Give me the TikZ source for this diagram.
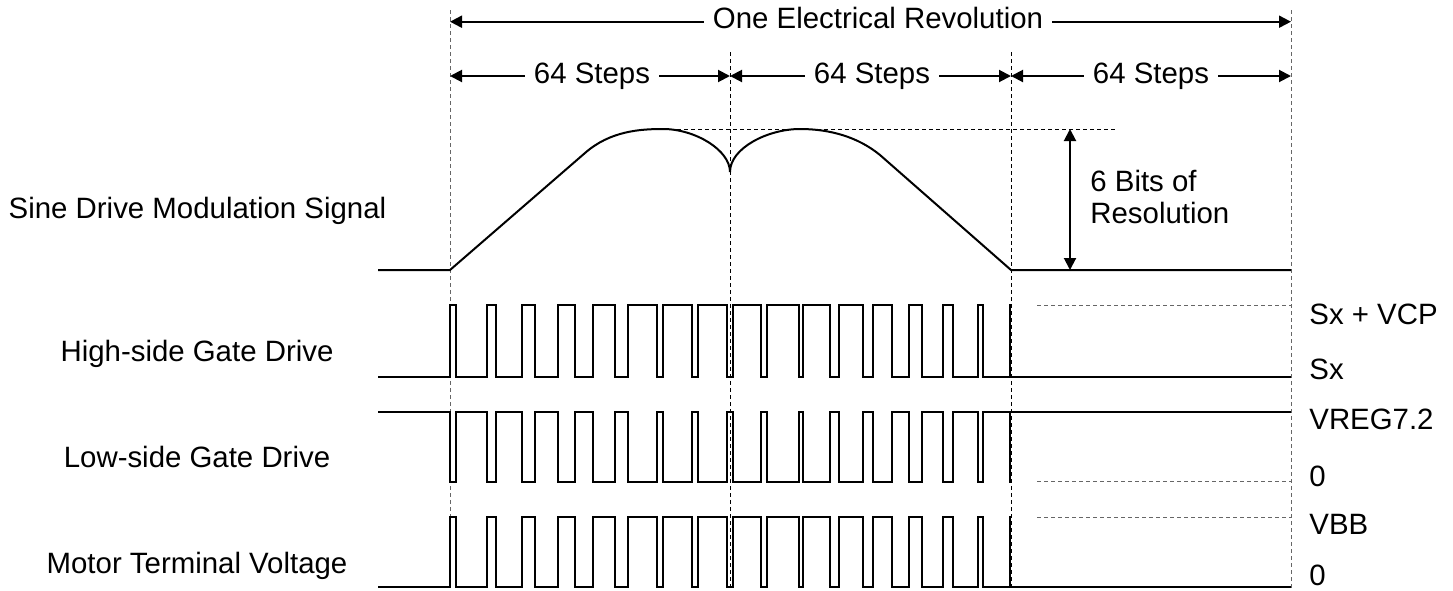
\documentclass[tikz,border=0pt]{standalone}
\usepackage{fontspec}
\setmainfont{Liberation Sans}
\usetikzlibrary{positioning,arrows.meta}

% PWM edges (start/end of each high-side pulse)
\newcommand\pwmlist{450/456, 487/496, 522/535, 558/575, 593/615, 628/657,
  663/692, 698/727, 733/761, 767/799, 803/830, 839/863, 873/892, 909/922,
  943/953, 978/983, 1009.5/1010}

\begin{document}
\begin{tikzpicture}[x=0.5pt, y=-0.5pt, font=\fontsize{14.7}{17}\selectfont,
    sig/.style={line width=1pt, line join=miter},
    guide/.style={line width=0.5pt, dash pattern=on 2pt off 1.5pt},
    dim/.style={line width=1pt, -{Triangle[length=6pt,width=6pt]}},
    dimboth/.style={line width=1pt, {Triangle[length=6pt,width=6pt]}-{Triangle[length=6pt,width=6pt]}},
    dimlbl/.style={fill=white, inner xsep=4.4pt, inner ysep=0pt, text height=0.72em, text depth=0pt},
    lbl/.style={inner sep=0pt, anchor=base}]
  \useasboundingbox (0,0) rectangle (1453,590);

  % time markers
  \foreach \n/\x/\t/\c in {a/450/10/black!60, b/730/52/black, c/1011/52/black, d/1291/10/black!60} {
    \coordinate (\n-top) at (\x,\t);
    \coordinate (\n-bot) at (\x,590);
    \draw[guide,\c] (\n-top) -- (\n-bot);
    \coordinate (\n-rev) at (\x,21.7);
    \coordinate (\n-step) at (\x,76);
  }

  % dimension arrows
  \node[dimlbl] (rev) at (878,21.7) {One Electrical Revolution};
  \draw[dim] (rev) -- (a-rev);
  \draw[dim] (rev) -- (d-rev);

  \node[dimlbl] (step1) at (592,76) {64 Steps};
  \node[dimlbl] (step2) at (872,76) {64 Steps};
  \node[dimlbl] (step3) at (1151,76) {64 Steps};
  \draw[dim] (step1) -- (a-step);
  \draw[dim] (step1) -- (b-step);
  \draw[dim] (step2) -- (b-step);
  \draw[dim] (step2) -- (c-step);
  \draw[dim] (step3) -- (c-step);
  \draw[dim] (step3) -- (d-step);

  % sine drive modulation
  \draw[guide] (663,129) -- (1118,129);
  \draw[sig] (378,270) -- (450,270) -- (585,153)
    .. controls (610,131) and (640,129) .. (663,129)
    .. controls (695,129) and (730,150) .. (730,172)
    .. controls (730,148) and (768,129) .. (800,129)
    .. controls (830,129) and (858,137) .. (880,155)
    -- (1011,270) -- (1291,270);
  \coordinate (res-top) at (1070,129);
  \coordinate (res-bot) at (1070,270);
  \draw[dimboth] (res-top) -- (res-bot);
  \node[lbl, anchor=base west] (bits) at (1090,191.7) {6 Bits of};
  \node[lbl, anchor=base west] (resol) at (1090,223.3) {Resolution};

  % gate drives and motor terminal
  \foreach \base/\peak in {377/305, 412/482, 587/517} {
    \draw[sig] (378,\base)
      \foreach \s/\e in \pwmlist { -- (\s,\base) -- (\s,\peak) -- (\e,\peak) -- (\e,\base) }
      -- (1291,\base);
  }
  \draw[guide,black!60] (1037,305.7) -- (1291,305.7);
  \draw[guide,black!60] (1037,481.7) -- (1291,481.7);
  \draw[guide,black!60] (1037,517.3) -- (1291,517.3);

  % signal names
  \node[lbl] (sine) at (197.5,218) {Sine Drive Modulation Signal};
  \node[lbl] (hs) at (197,361.7) {High-side Gate Drive};
  \node[lbl] (ls) at (197,467.7) {Low-side Gate Drive};
  \node[lbl] (mt) at (197,573.3) {Motor Terminal Voltage};

  % levels
  \node[lbl, anchor=base west] (vcp) at (1309,324.3) {Sx + VCP};
  \node[lbl, anchor=base west] (sx) at (1309,379) {Sx};
  \node[lbl, anchor=base west] (vreg) at (1309,429) {VREG7.2};
  \node[lbl, anchor=base west] (gnd1) at (1309,486) {0};
  \node[lbl, anchor=base west] (vbb) at (1309,534) {VBB};
  \node[lbl, anchor=base west] (gnd2) at (1309,585.5) {0};
\end{tikzpicture}
\end{document}
